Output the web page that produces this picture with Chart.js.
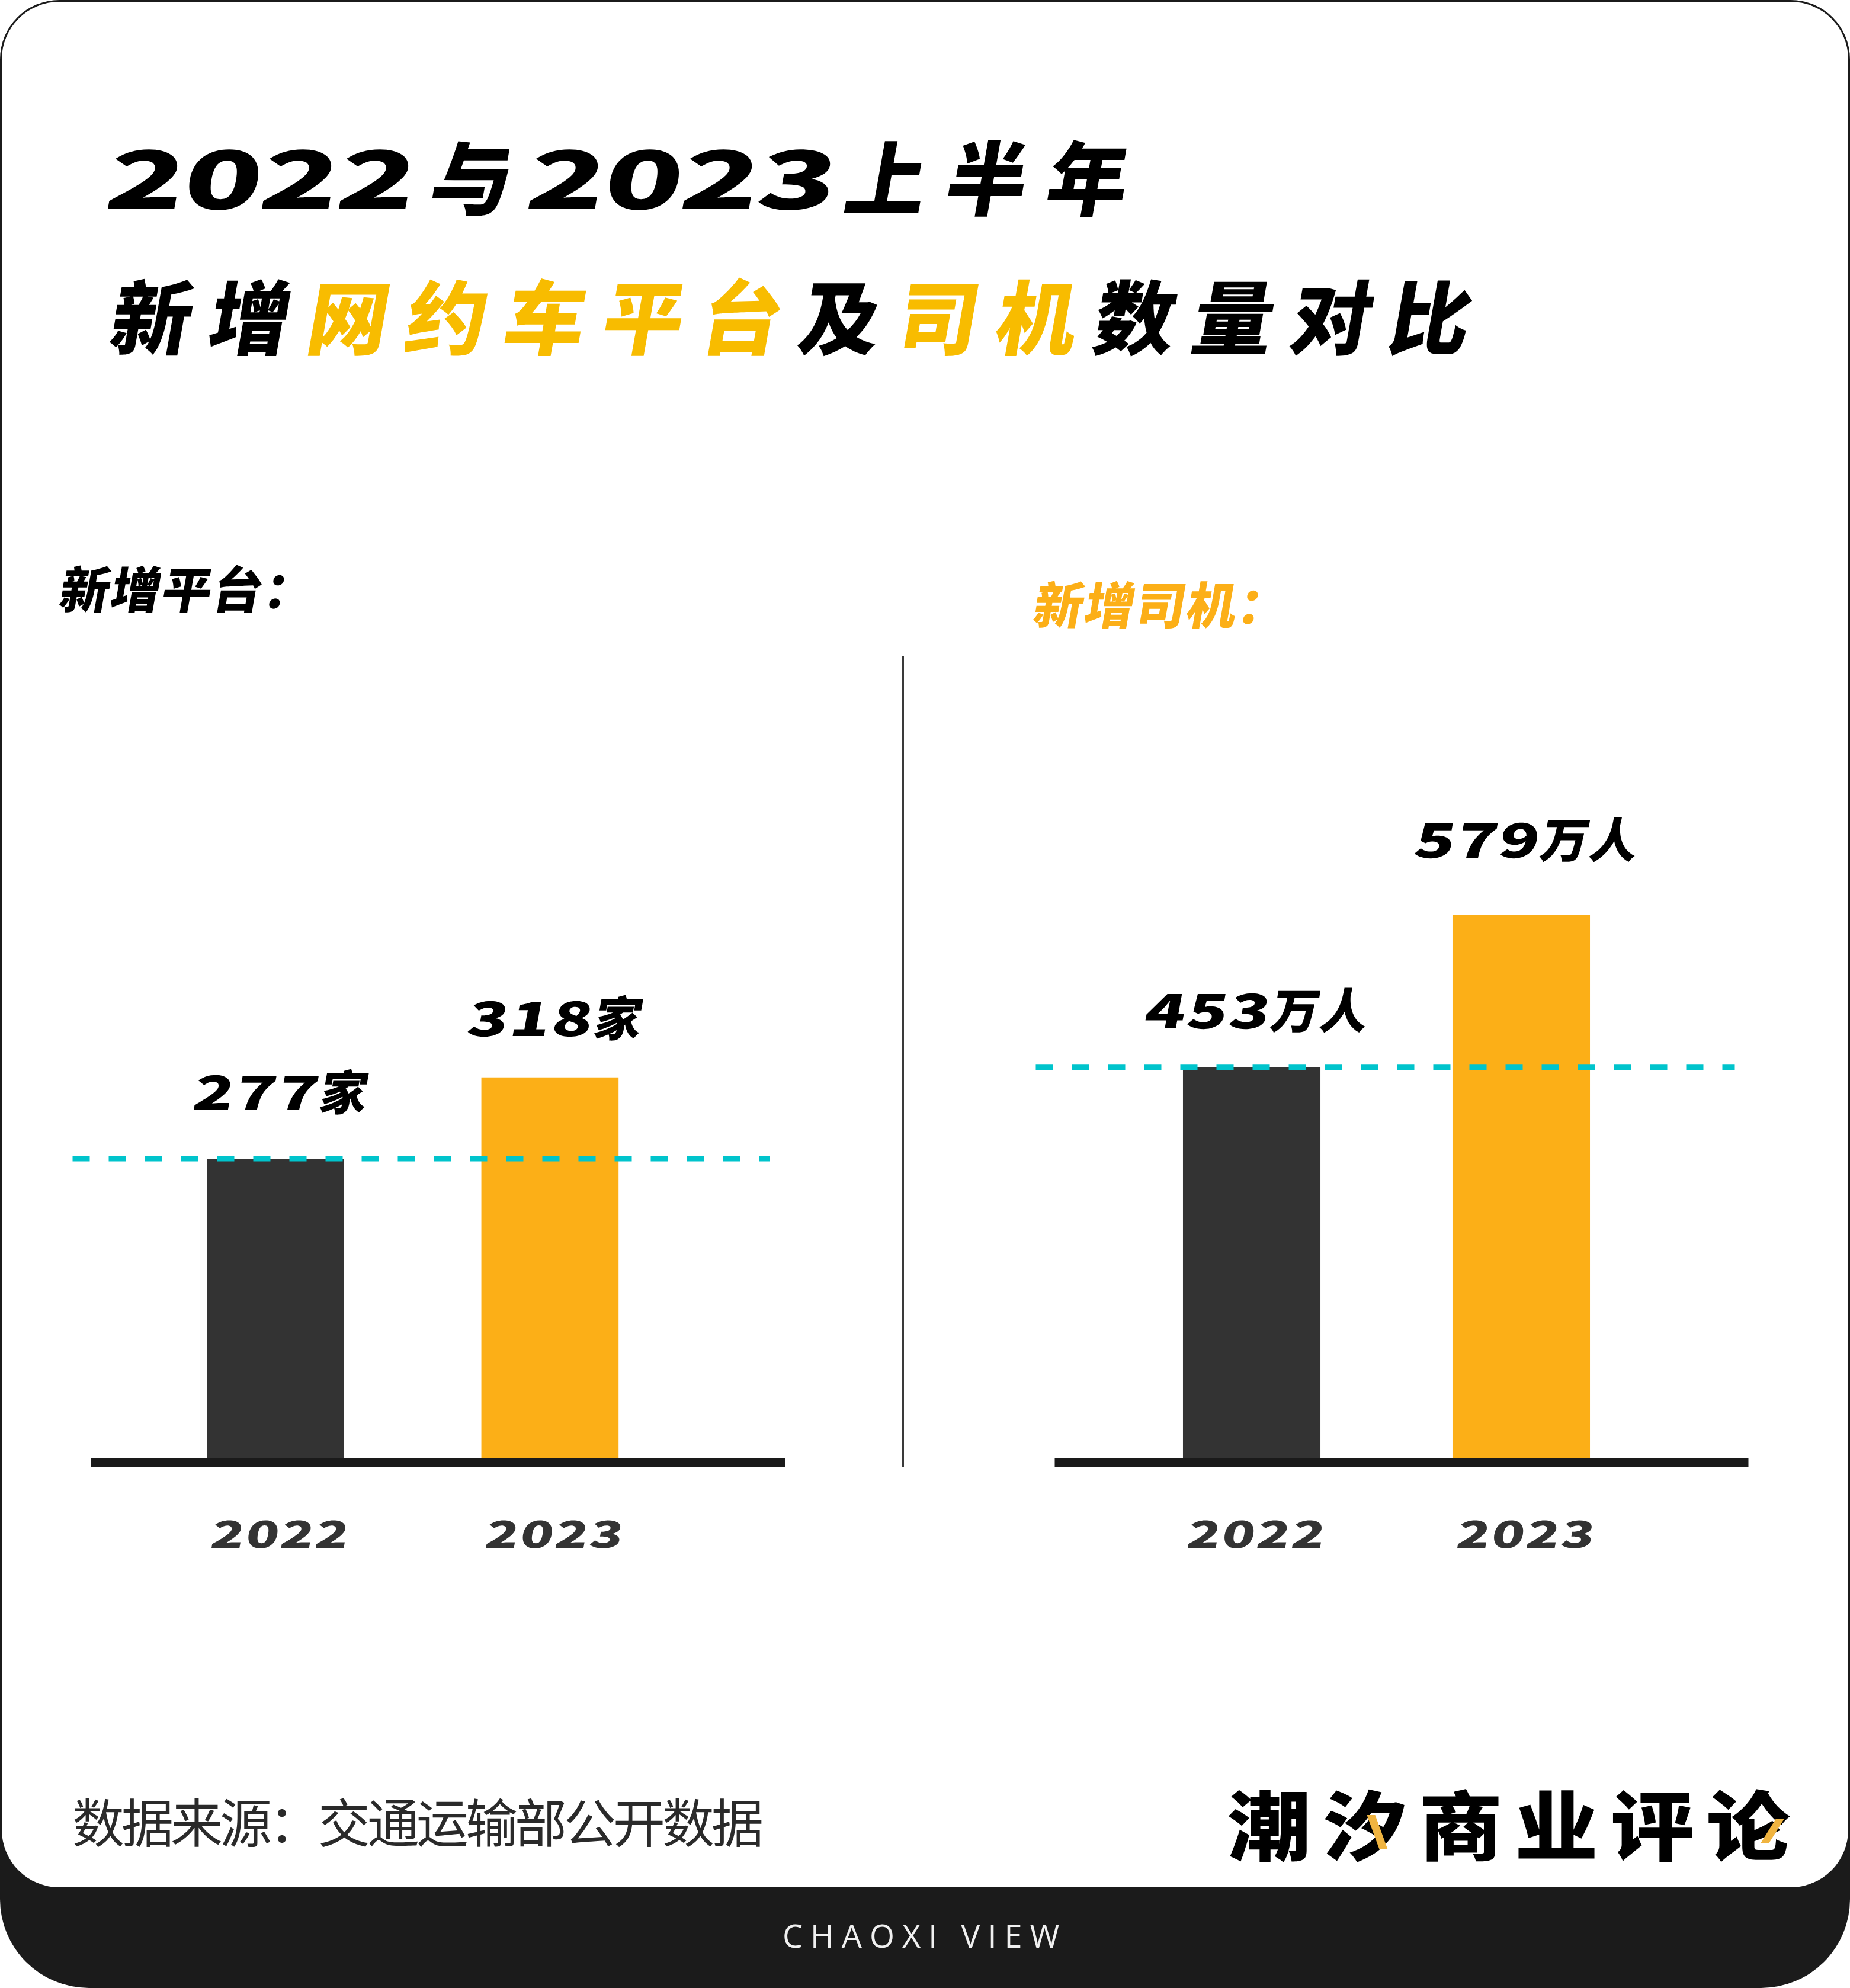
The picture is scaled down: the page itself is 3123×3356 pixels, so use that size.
<!DOCTYPE html>
<html>
<head>
<meta charset="utf-8">
<script src="https://cdn.jsdelivr.net/npm/chart.js@4.4.1/dist/chart.umd.min.js"></script>
<style>
  html, body { margin: 0; padding: 0; background: #fff; }
  #page { position: relative; width: 3123px; height: 3356px; overflow: hidden; background: #fff; }
  #frame { position: absolute; left: 0; top: 0; width: 3123px; height: 3356px; background: #1b1b1b; border-radius: 100px 100px 150px 150px; }
  #card { position: absolute; left: 3px; top: 3px; width: 3117px; height: 3183px; background: #fff; border-radius: 97px; }
  .cjk { font-family: "Noto Sans CJK SC", sans-serif; }
  .title { position: absolute; font-weight: 900; font-size: 136px; line-height: 1; white-space: nowrap; transform: skewX(-10deg); transform-origin: left bottom; }
  .title span.c { display: inline-block; text-align: center; }
  .title span.d { display: inline-block; transform: scaleX(1.6); }
  .sub { position: absolute; font-weight: 900; font-size: 84px; line-height: 1; white-space: nowrap; letter-spacing: 2px; transform: skewX(-10deg); transform-origin: left bottom; }
  #divider { position: absolute; left: 1523px; top: 1107px; width: 3px; height: 1370px; background: #3a3a3a; }
  #source { position: absolute; left: 122px; top: 3028px; font-size: 88px; line-height: 1; letter-spacing: -5px; color: #2a2a2a; font-weight: 400; white-space: nowrap; }
  #logo { position: absolute; left: 2072px; top: 3012px; font-size: 128px; line-height: 1; font-weight: 900; letter-spacing: 19px; color: #000; white-space: nowrap; transform: scaleX(1.1); transform-origin: left top; }
  .accent { position: absolute; width: 14px; background: #f0b440; }
  #view { position: absolute; left: 1321px; top: 3240px; font-family: "Open Sans", sans-serif; font-size: 54px; line-height: 1; letter-spacing: 13px; color: #f0f0f0; white-space: nowrap; }
  canvas { position: absolute; }
</style>
</head>
<body>
<div id="page">
  <div id="frame"></div>
  <div id="card"></div>

  <div id="title1" class="title cjk" style="left:172px; top:226px;"></div>
  <div id="title2" class="title cjk" style="left:164px; top:461px;"></div>

  <div class="sub cjk" style="left:96px; top:949px; color:#000;">新增平台：</div>
  <div class="sub cjk" style="left:1740px; top:975px; color:#fcaf17;">新增司机：</div>

  <div id="divider"></div>

  <canvas id="platformChart" width="1560" height="1600" style="left:0; top:1100px; width:1560px; height:1600px;"></canvas>
  <canvas id="driverChart" width="1563" height="1600" style="left:1560px; top:1100px; width:1563px; height:1600px;"></canvas>

  <div id="source" class="cjk">数据来源：交通运输部公开数据</div>
  <div id="logo" class="cjk">潮汐商业评论</div>
  <div class="accent" style="left:2318px; top:3064px; height:58px; transform:skewX(20deg);"></div>
  <div class="accent" style="left:2985px; top:3070px; height:42px; transform:skewX(-32deg);"></div>
  <div id="view">CHAOXI VIEW</div>
</div>

<script>
// data
const years = ["2022", "2023"];
const platformValues = [277, 318];
const platformUnit = "家";
const driverValues = [453, 579];
const driverUnit = "万人";

const titleLine1 = "2022与2023上半年";
const titleLine2 = "新增网约车平台及司机数量对比";
const highlight2 = [2, 3, 4, 5, 6, 8, 9]; // 网约车平台, 司机

const DARK = "#333333";
const ORANGE = "#fcaf17";
const YELLOW = "#f8bc00";
const CYAN = "#00c4cc";

function buildTitle(el, text, slotFor, colorFor) {
  [...text].forEach((ch, i) => {
    const s = document.createElement("span");
    s.className = "c";
    s.style.width = slotFor(ch) + "px";
    s.style.color = colorFor(i);
    if (/[0-9]/.test(ch)) {
      const d = document.createElement("span");
      d.className = "d";
      d.textContent = ch;
      s.appendChild(d);
    } else {
      s.textContent = ch;
    }
    el.appendChild(s);
  });
}

buildTitle(document.getElementById("title1"), titleLine1,
  (ch) => (/[0-9]/.test(ch) ? 130 : ch === "与" ? 190 : 170),
  () => "#000");
buildTitle(document.getElementById("title2"), titleLine2,
  () => 166,
  (i) => (highlight2.includes(i) ? YELLOW : "#000"));

// draws text with widened, slanted digits
function drawWide(ctx, text, cx, by, size, color, dScale, gap) {
  ctx.save();
  ctx.font = `900 ${size}px "Noto Sans CJK SC"`;
  const parts = [...text].map((ch) => {
    const isD = /[0-9]/.test(ch);
    return { ch, isD, w: ctx.measureText(ch).width * (isD ? dScale : 1) };
  });
  const total = parts.reduce((s, p) => s + p.w, 0) + gap * (parts.length - 1);
  let x = cx - total / 2;
  ctx.fillStyle = color;
  ctx.textAlign = "left";
  ctx.textBaseline = "alphabetic";
  parts.forEach((p) => {
    ctx.save();
    ctx.translate(x, by);
    ctx.transform(1, 0, -0.18, 1, 0, 0);
    if (p.isD) ctx.scale(dScale, 1);
    ctx.fillText(p.ch, 0, 0);
    ctx.restore();
    x += p.w + gap;
  });
  ctx.restore();
}

const decorPlugin = {
  id: "decor",
  afterDatasetsDraw(chart, args, opts) {
    const ctx = chart.ctx;
    const area = chart.chartArea;
    const y = chart.scales.y;
    const meta = chart.getDatasetMeta(0);
    const values = chart.data.datasets[0].data;

    // reference line at the first year's value
    const refY = y.getPixelForValue(values[0]);
    ctx.save();
    ctx.strokeStyle = CYAN;
    ctx.lineWidth = 9;
    ctx.setLineDash([29, 32]);
    ctx.beginPath();
    ctx.moveTo(area.left - opts.dashLeft, refY);
    ctx.lineTo(area.right + opts.dashRight, refY);
    ctx.stroke();
    ctx.restore();

    // baseline
    ctx.fillStyle = "#1a1a1a";
    ctx.fillRect(area.left - opts.baseLeft, area.bottom, area.width + opts.baseLeft + opts.baseRight, 16);

    meta.data.forEach((bar, i) => {
      drawWide(ctx, values[i] + opts.unit, bar.x + 4, bar.y - opts.labelGap[i], 80, "#000", 1.4, 3);
      drawWide(ctx, chart.data.labels[i], bar.x + 4, area.bottom + 152, 63, DARK, 1.45, 3);
    });
  },
};

function makeChart(id, values, unit, padding, barPct, extents) {
  return new Chart(document.getElementById(id), {
    type: "bar",
    data: {
      labels: years,
      datasets: [{
        data: values,
        backgroundColor: [DARK, ORANGE],
        borderWidth: 0,
        categoryPercentage: 1,
        barPercentage: barPct,
      }],
    },
    options: {
      responsive: false,
      animation: false,
      devicePixelRatio: 1,
      layout: { padding },
      scales: {
        x: { display: false },
        y: { display: false, min: extents.min, max: extents.max },
      },
      plugins: {
        legend: { display: false },
        tooltip: { enabled: false },
        decor: Object.assign({ unit }, extents.decor),
      },
    },
    plugins: [decorPlugin],
  });
}

makeChart("platformChart", platformValues, platformUnit,
  { left: 233.5, right: 400, top: 100, bottom: 239 }, 0.5,
  { min: 126, max: 503, decor: { dashLeft: 111, dashRight: 140, baseLeft: 80, baseRight: 165, labelGap: [82, 70] } });

makeChart("driverChart", driverValues, driverUnit,
  { left: 325.5, right: 327.5, top: 100, bottom: 239 }, 0.51,
  { min: 131, max: 747, decor: { dashLeft: 137, dashRight: 133, baseLeft: 105, baseRight: 156, labelGap: [66, 96] } });
</script>
</body>
</html>
